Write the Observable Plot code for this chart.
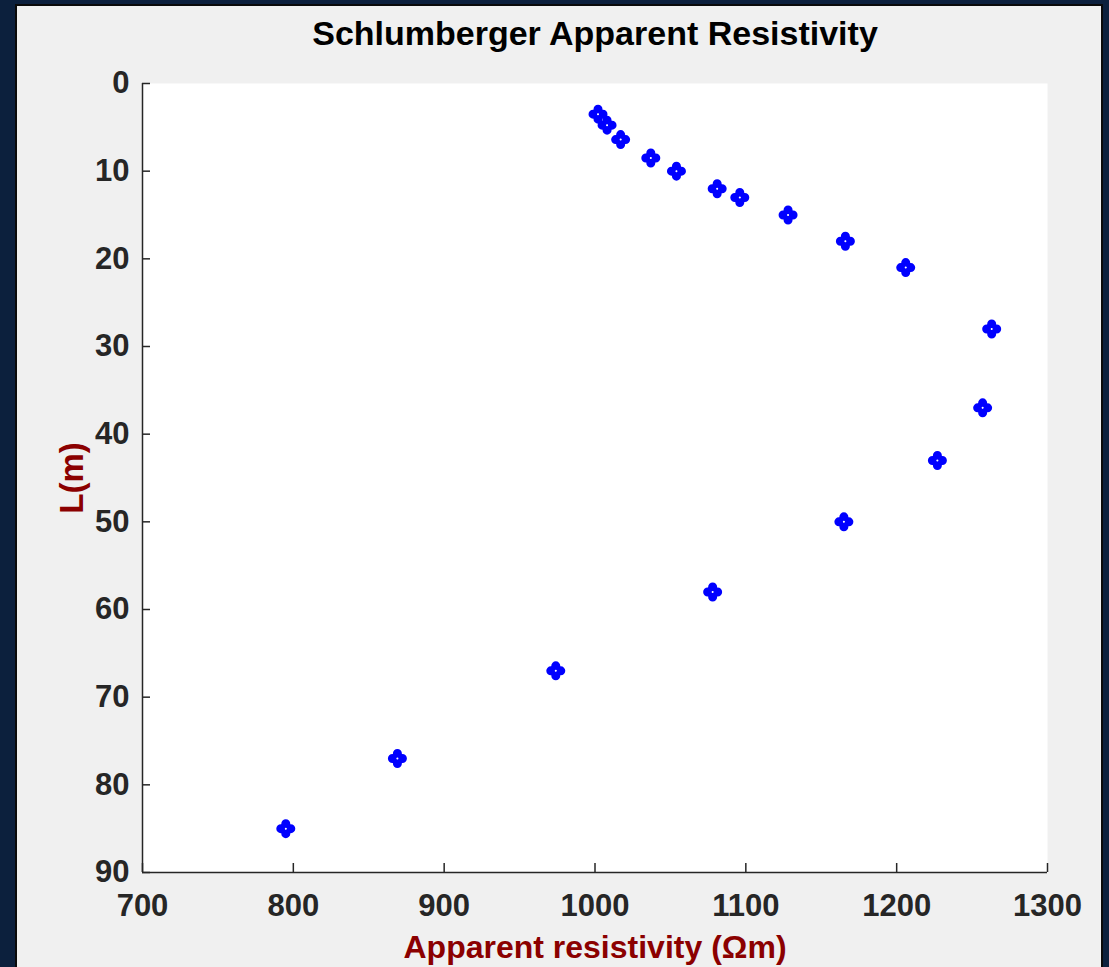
<!DOCTYPE html>
<html><head><meta charset="utf-8">
<script src="https://cdn.jsdelivr.net/npm/d3@7"></script>
<script src="https://cdn.jsdelivr.net/npm/@observablehq/plot@0.6"></script>
<style>
html,body{margin:0;padding:0;background:#0c203d;width:1109px;height:967px;overflow:hidden;}
#fig{position:absolute;left:15px;top:4px;width:1084px;height:965px;background:#f0f0f0;border:2px solid #0a0a0a;}
</style></head><body><div id="fig"></div>
<script>
const title = "Schlumberger Apparent Resistivity";
const xLabel = "Apparent resistivity (Ωm)";
const yLabel = "L(m)";
const resistivity = [1002, 1008, 1017, 1037, 1054, 1081, 1096, 1128, 1166, 1206, 1263, 1257, 1227, 1165, 1078, 974, 869, 795];
const depthL      = [3.5, 4.75, 6.4, 8.5, 10, 12, 13, 15, 18, 21, 28, 37, 43, 50, 58, 67, 77, 85];
const xTicks = [700, 800, 900, 1000, 1100, 1200, 1300];
const yTicks = [0, 10, 20, 30, 40, 50, 60, 70, 80, 90];

const points = resistivity.map((r, i) => ({r, L: depthL[i]}));

const W = 1084, H = 961, mL = 125, mR = 54, mT = 77, mB = 95;
const frameW = W - mL - mR, frameH = H - mT - mB;
const axisColor = "#262626";
const labelColor = "#8b0000";

const quatrefoil = {
  draw(ctx) {
    const d = 5, r = 4.5;
    for (const [cx, cy] of [[d, 0], [0, d], [-d, 0], [0, -d]]) {
      ctx.moveTo(cx + r, cy);
      ctx.arc(cx, cy, r, 0, 2 * Math.PI);
    }
  }
};

const chart = Plot.plot({
  width: W, height: H,
  marginLeft: mL, marginRight: mR, marginTop: mT, marginBottom: mB,
  style: {fontFamily: "'Liberation Sans', Arial, Helvetica, sans-serif", background: "transparent"},
  x: {domain: [700, 1300]},
  y: {domain: [0, 90], reverse: true},
  marks: [
    Plot.frame({fill: "white", stroke: "none"}),
    Plot.ruleX([700], {stroke: axisColor, strokeWidth: 1.5}),
    Plot.ruleY([90], {stroke: axisColor, strokeWidth: 1.5}),
    Plot.tickX(xTicks, {x: d => d, insetTop: frameH - 9, stroke: axisColor, strokeWidth: 1.5}),
    Plot.tickY(yTicks, {y: d => d, insetRight: frameW - 8, stroke: axisColor, strokeWidth: 1.5}),
    Plot.axisX({ticks: xTicks, tickFormat: d => String(d), tickSize: 0, tickPadding: 21, fontSize: 31, fontWeight: "bold", color: axisColor, label: null}),
    Plot.axisY({ticks: yTicks, tickFormat: d => String(d), tickSize: 0, tickPadding: 13, fontSize: 31, fontWeight: "bold", color: axisColor, label: null}),
    Plot.dot(points, {x: "r", y: "L", symbol: quatrefoil, fill: "#0000ff", stroke: "none", r: 5}),
    Plot.dot(points, {x: "r", y: "L", r: 1, fill: "white", stroke: "none"}),
    Plot.text([title], {frameAnchor: "top", lineAnchor: "bottom", dy: -38.5, fontSize: 34, fontWeight: "bold", fill: "#000"}),
    Plot.text([xLabel], {frameAnchor: "bottom", lineAnchor: "bottom", dy: 85, fontSize: 32, fontWeight: "bold", fill: labelColor}),
    Plot.text([yLabel], {frameAnchor: "left", rotate: -90, textAnchor: "middle", lineAnchor: "bottom", dx: -60, fontSize: 33, fontWeight: "bold", fill: labelColor})
  ]
});
document.getElementById("fig").appendChild(chart);
</script>
</body></html>
